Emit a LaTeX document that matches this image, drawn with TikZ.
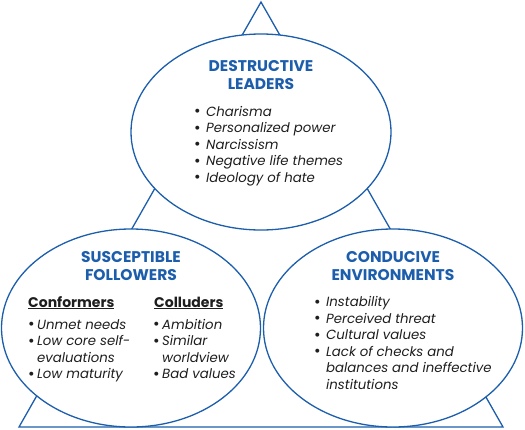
\documentclass[tikz,border=0pt]{standalone}
\usepackage{fontspec}
\setmainfont{Poppins}
\usetikzlibrary{shapes.geometric}
\definecolor{dblue}{RGB}{28,94,172}
\definecolor{dtext}{RGB}{30,30,30}
\newcommand{\bul}{\raisebox{-0.6pt}{\fontsize{16}{16}\selectfont\textbullet}}
\newcommand{\itmA}[1]{\makebox[12pt][l]{\bul}\textit{#1}}
\newcommand{\itmB}[1]{\makebox[9pt][l]{\bul}\textit{#1}}
\newcommand{\contA}[1]{\makebox[12pt][l]{}\textit{#1}}
\newcommand{\contB}[1]{\makebox[9pt][l]{}\textit{#1}}
\begin{document}
\begin{tikzpicture}[x=1pt,y=-1pt,
  outline/.style={draw=dblue, line width=1.3pt},
  blob/.style={outline, ellipse, fill=white, inner sep=0pt},
  title/.style={text=dblue, font=\fontsize{15.5}{18}\selectfont\bfseries, align=center, inner sep=0pt, anchor=base},
  list/.style={text=dtext, font=\fontsize{13.3}{16.5}\selectfont, align=left, inner sep=0pt, anchor=base west},
  head/.style={text=dtext, font=\fontsize{14}{16.5}\selectfont\bfseries, inner sep=0pt, anchor=base west}]
\useasboundingbox (0,0) rectangle (525,429);
\coordinate (apex) at (261,2);
\coordinate (bl) at (19,427);
\coordinate (br) at (503,427);
\draw[outline, line join=miter] (apex) -- (bl) -- (br) -- cycle;
\node[blob, minimum width=260pt, minimum height=196pt] (lead) at (261,132) {};
\node[blob, minimum width=259pt, minimum height=198pt] (foll) at (131,328) {};
\node[blob, minimum width=259pt, minimum height=198pt] (env) at (393,328) {};
% leaders (base anchor = baseline of the last line)
\node[title] (t1) at (261,89) {DESTRUCTIVE\\LEADERS};
\node[list] (l1) at (194,182) {\itmA{Charisma}\\\itmA{Personalized power}\\\itmA{Narcissism}\\\itmA{Negative life themes}\\\itmA{Ideology of hate}};
% followers
\node[title] (t2) at (131,280) {SUSCEPTIBLE\\FOLLOWERS};
\node[head] (h1) at (28,307) {\underline{Conformers}};
\node[head] (h2) at (154,307) {\underline{Colluders}};
\node[list] (l2) at (28,378.5) {\itmB{Unmet needs}\\\itmB{Low core self-}\\\contB{evaluations}\\\itmB{Low maturity}};
\node[list] (l3) at (153,378.5) {\itmB{Ambition}\\\itmB{Similar}\\\contB{worldview}\\\itmB{Bad values}};
% environments
\node[title] (t3) at (393,280) {CONDUCIVE\\ENVIRONMENTS};
\node[list] (l4) at (314,389) {\itmA{Instability}\\\itmA{Perceived threat}\\\itmA{Cultural values}\\\itmA{Lack of checks and}\\\contA{balances and ineffective}\\\contA{institutions}};
\end{tikzpicture}
\end{document}
